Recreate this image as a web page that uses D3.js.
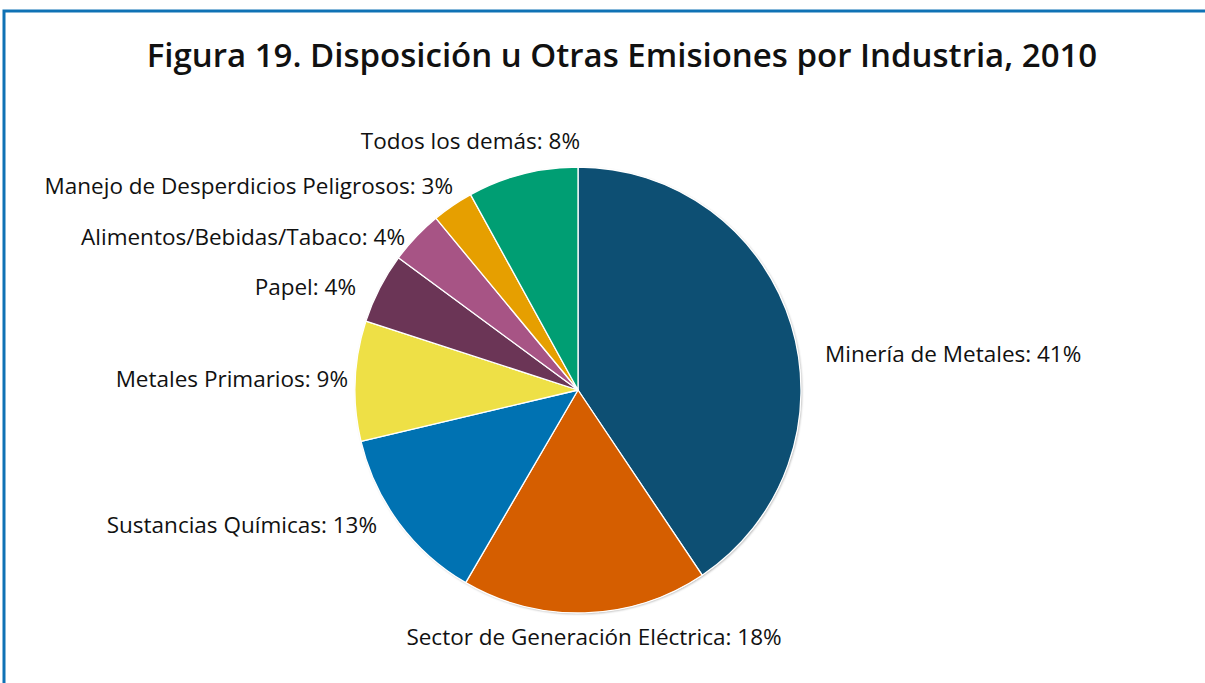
<!DOCTYPE html>
<html>
<head>
<meta charset="utf-8">
<script src="https://cdn.jsdelivr.net/npm/d3@7"></script>
<style>
  html, body { margin: 0; padding: 0; background: #fff; }
  svg { display: block; }
  text { font-family: "Open Sans", "Noto Sans", sans-serif; fill: #111; }
</style>
</head>
<body>
<svg id="chart" width="1205" height="683"></svg>
<script>
// ---- data ----
const titleText = "Figura 19. Disposición u Otras Emisiones por Industria, 2010";
const categories = [
  "Minería de Metales",
  "Sector de Generación Eléctrica",
  "Sustancias Químicas",
  "Metales Primarios",
  "Papel",
  "Alimentos/Bebidas/Tabaco",
  "Manejo de Desperdicios Peligrosos",
  "Todos los demás"
];
// slice shares as drawn (percent)
const shares = [40.6, 17.8, 12.9, 8.7, 5.1, 3.9, 3.0, 8.0];
// percentages printed in labels
const labelPct = [41, 18, 13, 9, 4, 4, 3, 8];
const colors = ["#0d4f73", "#d55e00", "#0072b2", "#eee046", "#6b3556", "#a75485", "#e69f00", "#009e73"];

// ---- layout (label placement, not data) ----
const labelLayout = [
  { x: 825, y: 362, anchor: "start" },
  { x: 594, y: 645, anchor: "middle" },
  { x: 377, y: 533, anchor: "end" },
  { x: 348, y: 387, anchor: "end" },
  { x: 356, y: 295, anchor: "end" },
  { x: 405, y: 245, anchor: "end" },
  { x: 453, y: 194, anchor: "end" },
  { x: 580, y: 149, anchor: "end" }
];

const svg = d3.select("#chart");
const W = 1205, H = 683;

// frame
svg.append("rect")
  .attr("x", 4).attr("y", 11)
  .attr("width", W + 20).attr("height", H + 20)
  .attr("fill", "none")
  .attr("stroke", "#0f72b5")
  .attr("stroke-width", 3);

// title
svg.append("text")
  .attr("x", 622).attr("y", 67)
  .attr("text-anchor", "middle")
  .style("font-size", "33px")
  .style("font-weight", "600")
  .text(titleText);

// pie
const cx = 578, cy = 390, R = 223;
const defs = svg.append("defs");
const f = defs.append("filter").attr("id", "shadow").attr("x", "-10%").attr("y", "-10%").attr("width", "120%").attr("height", "120%");
f.append("feDropShadow").attr("dx", 1).attr("dy", 1).attr("stdDeviation", 1.2).attr("flood-color", "#000").attr("flood-opacity", 0.3);

const pie = d3.pie().sort(null).value(d => d);
const arcs = pie(shares);
const arc = d3.arc().innerRadius(0).outerRadius(R);

const g = svg.append("g").attr("transform", `translate(${cx},${cy})`);
g.append("circle").attr("r", R).attr("fill", "#fff").attr("filter", "url(#shadow)");
g.selectAll("path.slice")
  .data(arcs)
  .join("path")
  .attr("class", "slice")
  .attr("d", arc)
  .attr("fill", (d, i) => colors[i])
  .attr("stroke", "#fff")
  .attr("stroke-width", 1.3)
  .attr("stroke-linejoin", "round");

// labels
svg.selectAll("text.lbl")
  .data(categories)
  .join("text")
  .attr("class", "lbl")
  .attr("x", (d, i) => labelLayout[i].x)
  .attr("y", (d, i) => labelLayout[i].y)
  .attr("text-anchor", (d, i) => labelLayout[i].anchor)
  .style("font-size", "22.5px")
  .text((d, i) => `${d}: ${labelPct[i]}%`);
</script>
</body>
</html>
